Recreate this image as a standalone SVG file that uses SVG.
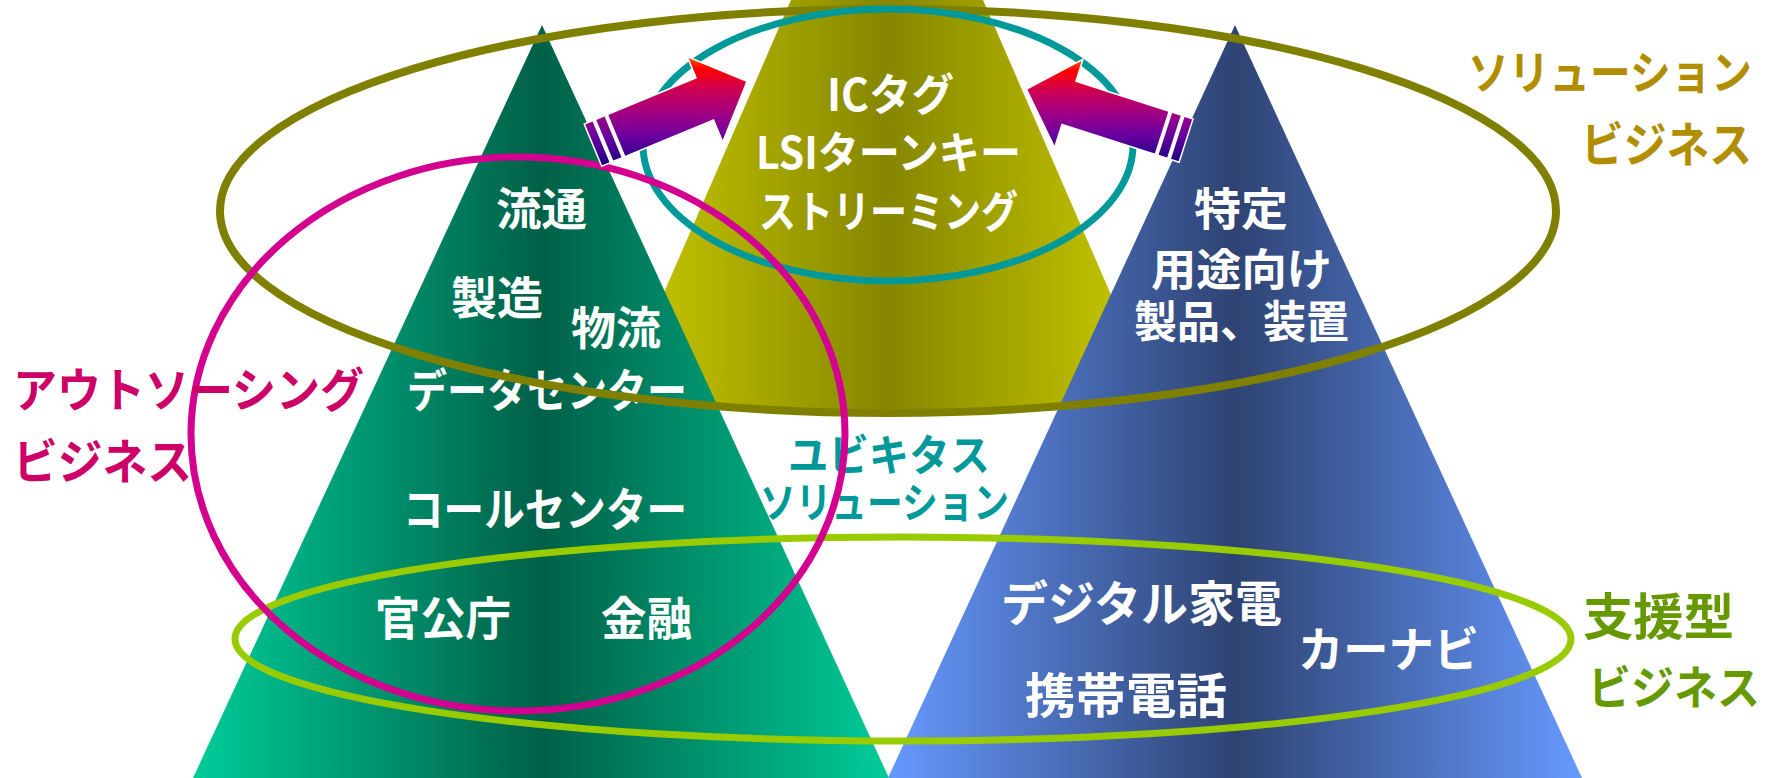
<svg xmlns="http://www.w3.org/2000/svg" width="1772" height="778" viewBox="0 0 1772 778">
<defs>
<linearGradient id="gGreen" x1="0" y1="0" x2="1" y2="0">
<stop offset="0" stop-color="#00CC99"/><stop offset="0.5" stop-color="#006048"/><stop offset="1" stop-color="#00CC99"/>
</linearGradient>
<linearGradient id="gOlive" x1="0" y1="0" x2="1" y2="0">
<stop offset="0" stop-color="#CCCC00"/><stop offset="0.5" stop-color="#868600"/><stop offset="1" stop-color="#CCCC00"/>
</linearGradient>
<linearGradient id="gBlue" x1="0" y1="0" x2="1" y2="0">
<stop offset="0" stop-color="#6699FF"/><stop offset="0.5" stop-color="#2E4372"/><stop offset="1" stop-color="#6699FF"/>
</linearGradient>
<linearGradient id="gArrow" x1="0" y1="0" x2="0" y2="1">
<stop offset="0" stop-color="#FF5000"/><stop offset="0.1" stop-color="#FF0000"/><stop offset="0.3" stop-color="#CC0055"/><stop offset="0.55" stop-color="#990088"/><stop offset="0.75" stop-color="#6600A0"/><stop offset="1" stop-color="#1A0080"/>
</linearGradient>
</defs>
<style>
text{font-family:"Noto Sans CJK JP","Noto Sans CJK SC",sans-serif;font-weight:700;}
.w{fill:#FFFFFF;}
.ring{fill:none;}
.arrow{fill:url(#gArrow);stroke:#FFFFFF;stroke-width:3;paint-order:stroke;stroke-linejoin:miter;}
</style>
<rect width="1772" height="778" fill="#FFFFFF"/>

<g id="node-solution-pyramid">
<polygon points="791,0 983,0 1161,410 613,410" fill="url(#gOlive)"/>
<text class="w" x="827" y="111" font-size="44" textLength="127" lengthAdjust="spacingAndGlyphs">ICタグ</text>
<text class="w" x="756" y="169" font-size="44" textLength="265" lengthAdjust="spacingAndGlyphs">LSIターンキー</text>
<text class="w" x="759" y="228" font-size="44" textLength="259" lengthAdjust="spacingAndGlyphs">ストリーミング</text>
</g>

<g id="node-outsourcing-pyramid">
<polygon points="542,25 889,778 193,778" fill="url(#gGreen)"/>
<text class="w" x="496" y="226" font-size="45" textLength="91" lengthAdjust="spacingAndGlyphs">流通</text>
<text class="w" x="451" y="315" font-size="45" textLength="92" lengthAdjust="spacingAndGlyphs">製造</text>
<text class="w" x="571" y="345" font-size="45" textLength="90" lengthAdjust="spacingAndGlyphs">物流</text>
<text class="w" x="407" y="407" font-size="46" textLength="280" lengthAdjust="spacingAndGlyphs">データセンター</text>
<text class="w" x="403" y="526" font-size="46" textLength="284" lengthAdjust="spacingAndGlyphs">コールセンター</text>
<text class="w" x="375" y="635" font-size="46" textLength="136" lengthAdjust="spacingAndGlyphs">官公庁</text>
<text class="w" x="601" y="635" font-size="46" textLength="91" lengthAdjust="spacingAndGlyphs">金融</text>
</g>

<g id="node-support-pyramid">
<polygon points="1235,25 1582,778 888,778" fill="url(#gBlue)"/>
<text class="w" x="1194" y="226" font-size="45" textLength="94" lengthAdjust="spacingAndGlyphs">特定</text>
<text class="w" x="1151" y="286" font-size="44" textLength="181" lengthAdjust="spacingAndGlyphs">用途向け</text>
<text class="w" x="1134" y="338" font-size="44" textLength="215" lengthAdjust="spacingAndGlyphs">製品、装置</text>
<text class="w" x="1001" y="621" font-size="48" textLength="281" lengthAdjust="spacingAndGlyphs">デジタル家電</text>
<text class="w" x="1298" y="667" font-size="48" textLength="181" lengthAdjust="spacingAndGlyphs">カーナビ</text>
<text class="w" x="1025" y="713" font-size="48" textLength="202" lengthAdjust="spacingAndGlyphs">携帯電話</text>
</g>

<g id="node-solution-business">
<ellipse class="ring" cx="888" cy="211" rx="668" ry="202" stroke="#808000" stroke-width="8"/>
<text x="1468" y="89" font-size="46" fill="#B08E00" textLength="284" lengthAdjust="spacingAndGlyphs">ソリューション</text>
<text x="1581" y="162" font-size="48" fill="#B08E00" textLength="171" lengthAdjust="spacingAndGlyphs">ビジネス</text>
</g>

<g id="node-ubiquitous-solution">
<ellipse class="ring" cx="888" cy="145" rx="245" ry="136" stroke="#009999" stroke-width="7"/>
<text x="788" y="471" font-size="43" fill="#009999" textLength="202" lengthAdjust="spacingAndGlyphs">ユビキタス</text>
<text x="760" y="518" font-size="42" fill="#009999" textLength="249" lengthAdjust="spacingAndGlyphs">ソリューション</text>
</g>

<g id="node-support-business">
<ellipse class="ring" cx="903" cy="639" rx="668" ry="102" stroke="#99CC00" stroke-width="7"/>
<text x="1583" y="635" font-size="50" fill="#669900" textLength="151" lengthAdjust="spacingAndGlyphs">支援型</text>
<text x="1588" y="704" font-size="46" fill="#669900" textLength="172" lengthAdjust="spacingAndGlyphs">ビジネス</text>
</g>

<g id="node-outsourcing-business">
<ellipse class="ring" cx="518" cy="434" rx="327" ry="277" stroke="#D4008F" stroke-width="7"/>
<text x="13" y="407" font-size="47" fill="#CC0066" textLength="351" lengthAdjust="spacingAndGlyphs">アウトソーシング</text>
<text x="13" y="479" font-size="48" fill="#CC0066" textLength="179" lengthAdjust="spacingAndGlyphs">ビジネス</text>
</g>

<g id="connectors">
<path class="arrow" d="M608.3,115 L697,78.2 L688.6,57.9 L746.1,81.7 L722.7,140.1 L713.9,118.9 L625.2,155.7 Z M604.6,116.5 L596.3,120 L613.2,160.6 L621.5,157.2 Z M592.6,121.5 L585.2,124.6 L602.1,165.2 L609.5,162.2 Z"/>
<path class="arrow" d="M1168.3,111.7 L1075,81.7 L1081.7,60.8 L1027.4,89.5 L1054.5,145.5 L1061.5,123.6 L1154.8,153.6 Z M1172.1,112.9 L1180.7,115.7 L1167.2,157.6 L1158.6,154.8 Z M1184.5,116.9 L1192.1,119.4 L1178.6,161.3 L1171,158.8 Z"/>
</g>
</svg>
